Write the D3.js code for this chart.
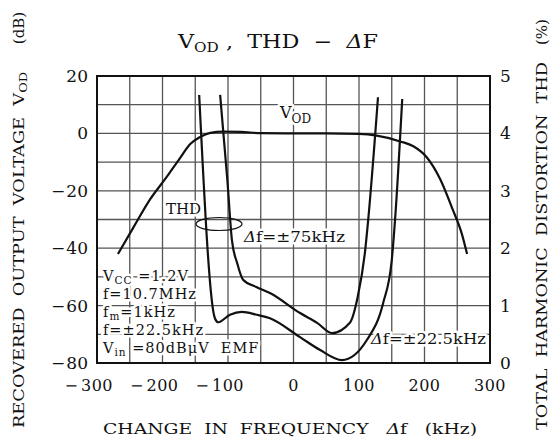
<!DOCTYPE html>
<html>
<head>
<meta charset="utf-8">
<script src="https://cdn.jsdelivr.net/npm/d3@7"></script>
<style>
  body { margin: 0; background: #fff; }
  svg text { font-family: "DejaVu Serif", "Liberation Serif", serif; fill: #111; }
</style>
</head>
<body>
<div id="chart"></div>
<script>
// 軸の目盛り
var freqTicks = [-300, -200, -100, 0, 100, 200, 300];
var vodTicks = [20, 0, -20, -40, -60, -80];
var thdTicks = [0, 1, 2, 3, 4, 5];

// V_OD (dB) - Δf (kHz)
var vodFreq = [-268, -245, -219, -193, -173, -158, -143, -127, -108, -80, -50, 0, 50, 100, 127, 163, 183, 204, 224, 243, 257, 265];
var vodLevel = [-42, -33, -23, -15, -8.5, -3.8, -1.3, 0.2, 0.6, 0.5, 0.1, 0, 0, -0.2, -0.8, -2.8, -4.5, -8.5, -16, -26.5, -35, -42];

// THD (%)  Δf=±75kHz
var thd75Freq = [-112, -101, -94, -86, -77, -56, -36, 10, 36, 59, 86, 98, 109, 114, 129];
var thd75Value = [4.67, 3.19, 2.14, 1.74, 1.45, 1.32, 1.22, 0.87, 0.70, 0.52, 0.70, 1.15, 1.92, 2.49, 4.63];

// THD (%)  Δf=±22.5kHz
var thd22Freq = [-144, -120, -115, -97, -79, -56, -36, 10, 40, 74, 112, 137, 150, 155, 166];
var thd22Value = [4.67, 0.78, 0.71, 0.84, 0.89, 0.84, 0.78, 0.45, 0.23, 0.05, 0.40, 1.05, 1.79, 2.49, 4.60];

// 測定条件
var conditionLines = [
  {main: 'V', sub: 'CC', rest: ' =1.2V'},
  {main: 'f=10.7MHz'},
  {main: 'f', sub: 'm', rest: '=1kHz'},
  {main: 'f=\u00b122.5kHz'},
  {main: 'V', sub: 'in', rest: ' =80dB\u03bcV\u00a0\u00a0EMF'}
];

// 領域のサイズ
var width = 554;
var height = 443;
var margin = {top: 76, right: 64, bottom: 80, left: 97};
var w = width - margin.left - margin.right;
var h = height - margin.top - margin.bottom;

var svg = d3.select('#chart').append('svg')
  .attr('width', width).attr('height', height);

var g = svg.append('g')
  .attr('transform', 'translate(' + margin.left + ',' + margin.top + ')');

// スケール
var x = d3.scaleLinear().domain([-300, 300]).range([0, w]);
var yL = d3.scaleLinear().domain([-80, 20]).range([h, 0]);
var yR = d3.scaleLinear().domain([0, 5]).range([h, 0]);

// グリッド
var gridG = g.append('g');
gridG.selectAll('.vgrid').data(d3.range(-250, 300, 50))
  .enter().append('line')
  .attr('x1', function(d) { return x(d); })
  .attr('x2', function(d) { return x(d); })
  .attr('y1', 0).attr('y2', h)
  .attr('stroke', '#555').attr('stroke-width', 1.3);
gridG.selectAll('.hgrid').data(d3.range(-70, 20, 10))
  .enter().append('line')
  .attr('y1', function(d) { return yL(d); })
  .attr('y2', function(d) { return yL(d); })
  .attr('x1', 0).attr('x2', w)
  .attr('stroke', '#555').attr('stroke-width', 1.3);

// 枠
g.append('rect')
  .attr('width', w).attr('height', h)
  .attr('fill', 'none')
  .attr('stroke', '#111')
  .attr('stroke-width', 2);

// 軸の目盛りラベル(マイナス記号は数字の左に離して置く)
var xLabelG = g.append('g');
freqTicks.forEach(function(d) {
  var t = xLabelG.append('text')
    .attr('x', x(d)).attr('y', h + 28)
    .attr('text-anchor', 'middle')
    .attr('font-size', 16)
    .attr('letter-spacing', 0.5)
    .text(Math.abs(d));
  if (d < 0) {
    var half = t.node().getComputedTextLength() / 2;
    xLabelG.append('text')
      .attr('x', x(d) - half - 3).attr('y', h + 28)
      .attr('text-anchor', 'end')
      .attr('font-size', 16)
      .text('\u2212');
  }
});

var yLabelG = g.append('g');
vodTicks.forEach(function(d) {
  var t = yLabelG.append('text')
    .attr('x', -9).attr('y', yL(d) + 6)
    .attr('text-anchor', 'end')
    .attr('font-size', 17)
    .text(Math.abs(d));
  if (d < 0) {
    var len = t.node().getComputedTextLength();
    yLabelG.append('text')
      .attr('x', -9 - len - 1).attr('y', yL(d) + 6)
      .attr('text-anchor', 'end')
      .attr('font-size', 17)
      .text('\u2212');
  }
});

g.append('g').selectAll('text').data(thdTicks)
  .enter().append('text')
  .attr('x', w + 10).attr('y', function(d) { return yR(d) + 6; })
  .attr('font-family', '"Liberation Serif", serif')
  .attr('font-size', 17)
  .text(function(d) { return d; });

// 曲線
var vodLine = d3.line()
  .x(function(d) { return x(d[0]); })
  .y(function(d) { return yL(d[1]); })
  .curve(d3.curveMonotoneX);
var thdLine = d3.line()
  .x(function(d) { return x(d[0]); })
  .y(function(d) { return yR(d[1]); })
  .curve(d3.curveMonotoneX);

var curveG = g.append('g')
  .attr('fill', 'none')
  .attr('stroke', '#111')
  .attr('stroke-width', 2.2);
curveG.append('path').attr('d', vodLine(d3.zip(vodFreq, vodLevel)));
curveG.append('path').attr('d', thdLine(d3.zip(thd75Freq, thd75Value)));
curveG.append('path').attr('d', thdLine(d3.zip(thd22Freq, thd22Value)));

// 白いふち取り付きのテキスト
function haloText(parent, px, py, size) {
  return parent.append('text')
    .attr('x', px).attr('y', py)
    .attr('font-size', size)
    .attr('stroke', '#fff')
    .attr('stroke-width', 5)
    .attr('stroke-linejoin', 'round')
    .style('paint-order', 'stroke');
}

// 注記
var noteG = svg.append('g');
var vodNote = haloText(noteG, 280, 118, 16);
vodNote.append('tspan').text('V');
vodNote.append('tspan').attr('font-size', 12).attr('dy', 5).text('OD');

haloText(noteG, 166, 214, 15).text('THD');
noteG.append('ellipse')
  .attr('cx', 219).attr('cy', 224)
  .attr('rx', 23).attr('ry', 6.5)
  .attr('fill', 'none').attr('stroke', '#111').attr('stroke-width', 1.2);

var n75 = haloText(noteG, 244, 242, 15)
  .attr('textLength', 101).attr('lengthAdjust', 'spacingAndGlyphs');
n75.append('tspan').attr('font-style', 'italic').text('\u0394');
n75.append('tspan').text('f=\u00b175kHz');

var n22 = haloText(noteG, 371, 344, 15)
  .attr('textLength', 115).attr('lengthAdjust', 'spacingAndGlyphs');
n22.append('tspan').attr('font-style', 'italic').text('\u0394');
n22.append('tspan').text('f=\u00b122.5kHz');

// 測定条件のテキスト
conditionLines.forEach(function(d, i) {
  var t = haloText(noteG, 103, 281 + i * 18, 14.5)
    .attr('letter-spacing', 1);
  t.append('tspan').text(d.main);
  if (d.sub) {
    t.append('tspan').attr('font-size', 10.5).attr('dy', 2.5).text(d.sub);
    t.append('tspan').attr('dy', -2.5).text(d.rest);
  }
});

// タイトル
var title = svg.append('text')
  .attr('x', 178).attr('y', 48)
  .attr('font-size', 19)
  .attr('textLength', 200)
  .attr('lengthAdjust', 'spacingAndGlyphs');
title.append('tspan').text('V');
title.append('tspan').attr('font-size', 13).attr('dy', 4).text('OD');
title.append('tspan').attr('dy', -4).text('\u00a0,\u00a0\u00a0THD\u00a0\u00a0\u2212\u00a0\u00a0');
title.append('tspan').attr('font-style', 'italic').text('\u0394');
title.append('tspan').text('F');

// 軸タイトル
var xTitle = svg.append('text')
  .attr('x', 103).attr('y', 434)
  .attr('font-size', 14.5)
  .attr('textLength', 374)
  .attr('lengthAdjust', 'spacingAndGlyphs');
xTitle.append('tspan').text('CHANGE\u00a0\u00a0IN\u00a0\u00a0FREQUENCY\u00a0\u00a0\u00a0');
xTitle.append('tspan').attr('font-style', 'italic').text('\u0394');
xTitle.append('tspan').text('f\u00a0\u00a0\u00a0(kHz)');

var yTitleL = svg.append('text')
  .attr('transform', 'translate(24,250) rotate(-90)')
  .attr('text-anchor', 'middle')
  .attr('font-size', 14.5)
  .attr('textLength', 356)
  .attr('lengthAdjust', 'spacingAndGlyphs');
yTitleL.append('tspan').text('RECOVERED\u00a0\u00a0OUTPUT\u00a0\u00a0VOLTAGE\u00a0\u00a0V');
yTitleL.append('tspan').attr('font-size', 10.5).attr('dy', 3).text('OD');

svg.append('text')
  .attr('transform', 'translate(24,28) rotate(-90)')
  .attr('text-anchor', 'middle')
  .attr('font-size', 15)
  .text('(dB)');

svg.append('text')
  .attr('transform', 'translate(547,246) rotate(-90)')
  .attr('text-anchor', 'middle')
  .attr('font-size', 14.5)
  .attr('textLength', 368)
  .attr('lengthAdjust', 'spacingAndGlyphs')
  .text('TOTAL\u00a0\u00a0HARMONIC\u00a0\u00a0DISTORTION\u00a0\u00a0THD');

svg.append('text')
  .attr('transform', 'translate(547,32) rotate(-90)')
  .attr('text-anchor', 'middle')
  .attr('font-size', 15)
  .text('(%)');
</script>
</body>
</html>
